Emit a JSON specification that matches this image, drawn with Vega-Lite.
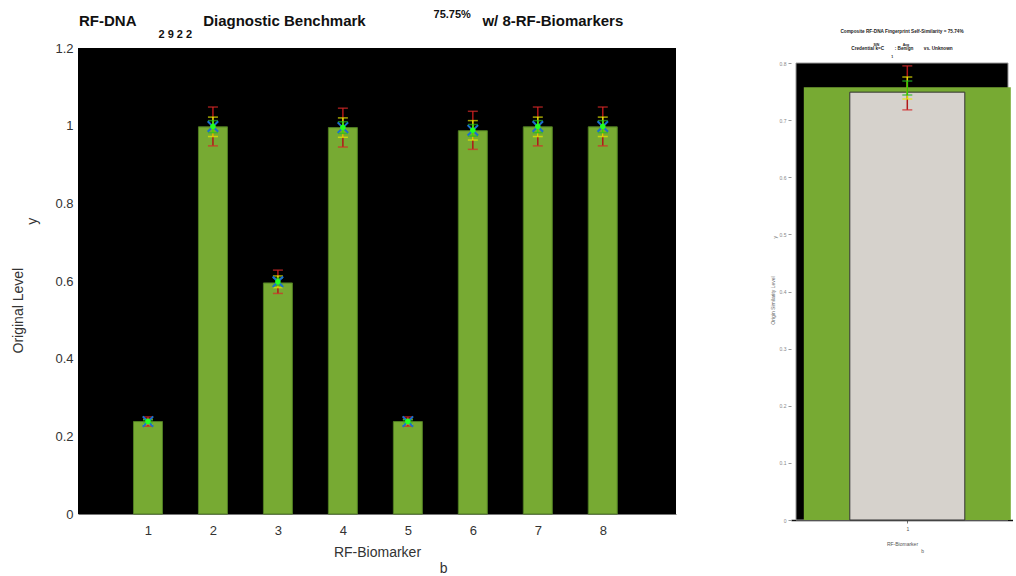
{
  "$schema": "https://vega.github.io/schema/vega-lite/v6.json",
  "background": "white",
  "padding": {"left": 11, "top": 9, "right": 0, "bottom": 0},
  "spacing": 94,
  "align": "none",
  "config": {
    "font": "Liberation Sans, Arial, sans-serif",
    "axis": {"grid": false, "labelFont": "Liberation Sans", "titleFont": "Liberation Sans", "titleFontWeight": "normal"}
  },
  "datasets": {
    "left": [
      {"b": 1, "v": 0.238, "m": 0.238, "rlo": 0.226, "rhi": 0.250, "ylo": 0.232, "yhi": 0.244, "glo": 0.234, "ghi": 0.242},
      {"b": 2, "v": 0.997, "m": 0.998, "rlo": 0.948, "rhi": 1.048, "ylo": 0.972, "yhi": 1.022, "glo": 0.982, "ghi": 1.013},
      {"b": 3, "v": 0.595, "m": 0.598, "rlo": 0.568, "rhi": 0.628, "ylo": 0.583, "yhi": 0.613, "glo": 0.589, "ghi": 0.607},
      {"b": 4, "v": 0.995, "m": 0.995, "rlo": 0.945, "rhi": 1.045, "ylo": 0.970, "yhi": 1.020, "glo": 0.980, "ghi": 1.010},
      {"b": 5, "v": 0.238, "m": 0.238, "rlo": 0.226, "rhi": 0.250, "ylo": 0.232, "yhi": 0.244, "glo": 0.234, "ghi": 0.242},
      {"b": 6, "v": 0.987, "m": 0.988, "rlo": 0.939, "rhi": 1.037, "ylo": 0.963, "yhi": 1.013, "glo": 0.973, "ghi": 1.003},
      {"b": 7, "v": 0.997, "m": 0.998, "rlo": 0.948, "rhi": 1.048, "ylo": 0.972, "yhi": 1.022, "glo": 0.982, "ghi": 1.013},
      {"b": 8, "v": 0.997, "m": 0.998, "rlo": 0.948, "rhi": 1.048, "ylo": 0.972, "yhi": 1.022, "glo": 0.982, "ghi": 1.013}
    ],
    "right": [
      {"b": 1, "composite": 0.7575, "v": 0.749, "m": 0.756, "rlo": 0.718, "rhi": 0.795, "ylo": 0.737, "yhi": 0.7755, "glo": 0.744, "ghi": 0.7685}
    ]
  },
  "hconcat": [
    {
      "width": 598,
      "height": 466,
      "view": {"fill": "black", "stroke": null},
      "data": {"name": "left"},
      "title": {
        "text": "RF-DNA\u00a0\u00a0\u00a0\u00a0\u00a0\u00a0\u00a0\u00a0\u00a0\u00a0\u00a0\u00a0\u00a0\u00a0\u00a0\u00a0Diagnostic Benchmark\u00a0\u00a0\u00a0\u00a0\u00a0\u00a0\u00a0\u00a0\u00a0\u00a0\u00a0\u00a0\u00a0\u00a0\u00a0\u00a0\u00a0\u00a0\u00a0\u00a0\u00a0\u00a0\u00a0\u00a0\u00a0\u00a0\u00a0\u00a0w/ 8-RF-Biomarkers",
        "subtitle": [
          "\u200b\u00a0\u00a0\u00a0\u00a0\u00a0\u00a0\u00a0\u00a0\u00a0\u00a0\u00a0\u00a0\u00a0\u00a0\u00a0\u00a0\u00a0\u00a0\u00a0\u00a0\u00a0\u00a0\u00a0\u00a0\u00a0\u00a0\u00a0\u00a0\u00a0\u00a0\u00a0\u00a0\u00a0\u00a0\u00a0\u00a0\u00a0\u00a0\u00a0\u00a0\u00a0\u00a0\u00a0\u00a0\u00a0\u00a0\u00a0\u00a0\u00a0\u00a0\u00a0\u00a0\u00a0\u00a0\u00a0\u00a0\u00a0\u00a0\u00a0\u00a0\u00a0\u00a0\u00a0\u00a0\u00a0\u00a0\u00a0\u00a0\u00a0\u00a0\u00a0\u00a0\u00a0\u00a0\u00a0\u00a0\u00a0\u00a0\u00a0\u00a0\u00a0\u00a0\u00a0\u00a0\u00a0\u00a0\u00a0\u00a0\u00a0\u00a0\u00a0\u00a0\u00a0\u00a0\u00a0\u00a0\u00a0\u00a0\u00a0\u00a0\u00a0\u00a0\u00a0\u00a0\u00a0\u00a0\u00a0\u00a0\u00a0\u00a0\u00a0\u00a0\u00a0\u00a0\u00a0\u00a075.75%",
          "\u200b\u00a0\u00a0\u00a0\u00a0\u00a0\u00a0\u00a0\u00a0\u00a0\u00a0\u00a0\u00a0\u00a0\u00a0\u00a0\u00a0\u00a0\u00a0\u00a0\u00a0\u00a0\u00a0\u00a0\u00a0\u00a0\u00a02 9 2 2"
        ],
        "anchor": "start",
        "frame": "group",
        "dx": 1,
        "font": "Liberation Sans",
        "fontSize": 15,
        "fontWeight": "bold",
        "color": "#111",
        "subtitleFont": "Liberation Sans",
        "subtitleFontSize": 11,
        "subtitleFontWeight": "bold",
        "subtitleColor": "#111",
        "subtitleLineHeight": 20,
        "subtitlePadding": -20,
        "offset": -3
      },
      "encoding": {
        "x": {"field": "b", "type": "quantitative", "scale": {"domain": [0, 9.05], "nice": false, "zero": false},
          "axis": {"values": [1, 2, 3, 4, 5, 6, 7, 8], "format": "d", "labelFontSize": 13, "labelColor": "#333", "labelPadding": 10, "ticks": false, "domainColor": "#777",
            "title": ["RF-Biomarker", "\u200b\u00a0\u00a0\u00a0\u00a0\u00a0\u00a0\u00a0\u00a0\u00a0\u00a0\u00a0\u00a0\u00a0\u00a0\u00a0\u00a0\u00a0\u00a0\u00a0\u00a0\u00a0\u00a0\u00a0\u00a0\u00a0\u00a0\u00a0\u00a0\u00a0\u00a0\u00a0\u00a0\u00a0\u00a0b"],
            "titleFontSize": 14, "titleColor": "#333", "titlePadding": 8, "titleLineHeight": 16}}
      },
      "layer": [
        {
          "mark": {"type": "bar", "size": 29, "color": "#77aa33", "stroke": "#4f7d22", "strokeWidth": 1},
          "encoding": {
            "y": {"field": "v", "type": "quantitative", "scale": {"domain": [0, 1.2], "nice": false},
              "axis": {"values": [0, 0.2, 0.4, 0.6, 0.8, 1, 1.2], "format": "~g", "labelFontSize": 13, "labelColor": "#333", "labelPadding": 5, "ticks": false, "domain": false,
                "title": ["Original Level\u00a0\u00a0\u00a0\u00a0\u00a0\u00a0\u00a0\u00a0\u00a0\u00a0\u00a0\u00a0\u00a0\u00a0\u00a0\u200b", "\u200b\u00a0\u00a0\u00a0\u00a0\u00a0\u00a0\u00a0\u00a0\u00a0\u00a0\u00a0\u00a0\u00a0\u00a0\u00a0\u00a0\u00a0\u00a0\u00a0\u00a0\u00a0\u00a0\u00a0\u00a0\u00a0\u00a0\u00a0\u00a0\u00a0\u00a0\u00a0y"],
                "titleFontSize": 14, "titleColor": "#333", "titlePadding": 15, "titleLineHeight": 14}}
          }
        },
        {"mark": {"type": "rule", "color": "#b01818", "strokeWidth": 1.5}, "encoding": {"y": {"field": "rlo", "type": "quantitative"}, "y2": {"field": "rhi"}}},
        {"mark": {"type": "rule", "color": "#d8d800", "strokeWidth": 1.5}, "encoding": {"y": {"field": "ylo", "type": "quantitative"}, "y2": {"field": "yhi"}}},
        {"mark": {"type": "rule", "color": "#33dd00", "strokeWidth": 1.5}, "encoding": {"y": {"field": "glo", "type": "quantitative"}, "y2": {"field": "ghi"}}},
        {"mark": {"type": "tick", "orient": "horizontal", "size": 10, "thickness": 1.5, "color": "#d42a2a"}, "encoding": {"y": {"field": "rlo", "type": "quantitative"}}},
        {"mark": {"type": "tick", "orient": "horizontal", "size": 10, "thickness": 1.5, "color": "#d42a2a"}, "encoding": {"y": {"field": "rhi", "type": "quantitative"}}},
        {"mark": {"type": "tick", "orient": "horizontal", "size": 10, "thickness": 1.5, "color": "#e8e800"}, "encoding": {"y": {"field": "ylo", "type": "quantitative"}}},
        {"mark": {"type": "tick", "orient": "horizontal", "size": 10, "thickness": 1.5, "color": "#e8e800"}, "encoding": {"y": {"field": "yhi", "type": "quantitative"}}},
        {"mark": {"type": "tick", "orient": "horizontal", "size": 10, "thickness": 1.5, "color": "#22bb22"}, "encoding": {"y": {"field": "glo", "type": "quantitative"}}},
        {"mark": {"type": "tick", "orient": "horizontal", "size": 10, "thickness": 1.5, "color": "#22bb22"}, "encoding": {"y": {"field": "ghi", "type": "quantitative"}}},
        {"mark": {"type": "point", "shape": "M-1,-1L1,1M-1,1L1,-1", "filled": false, "stroke": "#1a6fd0", "strokeWidth": 2, "size": 110, "opacity": 1}, "encoding": {"y": {"field": "m", "type": "quantitative"}}},
        {"mark": {"type": "point", "shape": "circle", "filled": true, "color": "#22ff22", "size": 30, "opacity": 1}, "encoding": {"y": {"field": "m", "type": "quantitative"}}}
      ]
    },
    {
      "width": 222,
      "height": 472,
      "view": {"fill": null, "stroke": null},
      "data": {"name": "right"},
      "title": {
        "text": ["Composite RF-DNA Fingerprint  Self-Similarity = 75.74%", "Credential k=C\u00a0\u00a0\u00a0\u00a0\u00a0\u00a0\u00a0\u00a0: Benign\u00a0\u00a0\u00a0\u00a0\u00a0\u00a0\u00a0\u00a0vs. Unknown"],
        "subtitle": ["SIN\u00a0\u00a0\u00a0\u00a0\u00a0\u00a0\u00a0\u00a0\u00a0\u00a0\u00a0\u00a0\u00a0\u00a0\u00a0\u00a0\u00a0\u00a0\u00a0\u00a0\u00a0\u00a0\u00a0\u00a0Avg\u00a0\u00a0\u00a0\u00a0\u00a0\u00a0\u00a0\u00a0\u00a0\u00a0\u00a0\u00a0\u00a0\u00a0\u00a0\u00a0\u00a0\u00a0\u00a0\u00a0\u00a0\u00a0\u200b", "1\u00a0\u00a0\u00a0\u00a0\u00a0\u00a0\u00a0\u00a0\u00a0\u00a0\u00a0\u00a0\u00a0\u00a0\u00a0\u00a0\u00a0\u00a0\u00a0\u00a0\u200b"],
        "anchor": "middle",
        "frame": "group",
        "font": "Liberation Sans",
        "fontSize": 4.7,
        "fontWeight": "bold",
        "lineHeight": 17,
        "color": "#222",
        "subtitleFont": "Liberation Sans",
        "subtitleFontSize": 3.5,
        "subtitleFontWeight": "bold",
        "subtitleColor": "#222",
        "subtitleLineHeight": 12,
        "subtitlePadding": -8,
        "offset": -10
      },
      "encoding": {
        "x": {"field": "b", "type": "quantitative", "scale": {"domain": [0.475, 1.475], "nice": false, "zero": false},
          "axis": {"values": [1], "format": "d", "labelFontSize": 5, "labelColor": "#555", "tickSize": 3, "tickColor": "#777", "domainColor": "#111", "domainWidth": 1.5, "labelPadding": 3,
            "title": ["RF-Biomarker", "\u200b\u00a0\u00a0\u00a0\u00a0\u00a0\u00a0\u00a0\u00a0\u00a0\u00a0\u00a0\u00a0\u00a0\u00a0\u00a0\u00a0\u00a0\u00a0\u00a0\u00a0\u00a0\u00a0\u00a0\u00a0\u00a0\u00a0\u00a0\u00a0\u00a0b"], "titleFontSize": 5, "titleColor": "#555", "titlePadding": 10, "titleLineHeight": 7}}
      },
      "layer": [
        {
          "mark": {"type": "rect", "fill": "black", "stroke": "#999", "strokeWidth": 1},
          "encoding": {
            "x": {"datum": 0.475, "type": "quantitative"},
            "x2": {"datum": 1.475},
            "y": {"datum": 0, "type": "quantitative", "scale": {"domain": [0, 0.8263], "nice": false},
              "axis": {"values": [0, 0.1, 0.2, 0.3, 0.4, 0.5, 0.6, 0.7, 0.8], "format": "~g", "labelFontSize": 5, "labelColor": "#888", "tickSize": 3, "tickColor": "#999", "domain": false, "labelPadding": 2,
                "title": ["Origin Similarity Level\u00a0\u00a0\u00a0\u00a0\u00a0\u00a0\u00a0\u00a0\u00a0\u00a0\u00a0\u00a0\u00a0\u00a0\u00a0\u00a0\u00a0\u00a0\u00a0\u00a0\u00a0\u00a0\u00a0\u200b", "\u200b\u00a0\u00a0\u00a0\u00a0\u00a0\u00a0\u00a0\u00a0\u00a0\u00a0\u00a0\u00a0\u00a0\u00a0\u00a0\u00a0\u00a0\u00a0\u00a0\u00a0\u00a0\u00a0\u00a0\u00a0\u00a0\u00a0\u00a0\u00a0\u00a0\u00a0\u00a0\u00a0\u00a0\u00a0\u00a0\u00a0\u00a0\u00a0\u00a0\u00a0\u00a0\u00a0\u00a0\u00a0\u00a0\u00a0\u00a0\u00a0\u00a0\u00a0\u00a0\u00a0\u00a0\u00a0\u00a0\u00a0\u00a0\u00a0\u00a0\u00a0\u00a0\u00a0\u00a0\u00a0\u00a0\u00a0\u00a0\u00a0y"],
                "titleFontSize": 5, "titleColor": "#666", "titlePadding": 2, "titleLineHeight": 2}},
            "y2": {"datum": 0.8}
          }
        },
        {
          "mark": {"type": "bar", "size": 207, "color": "#77aa33"},
          "encoding": {"y": {"field": "composite", "type": "quantitative"}}
        },
        {
          "mark": {"type": "bar", "size": 115, "color": "#d6d2cc", "stroke": "#333", "strokeWidth": 1},
          "encoding": {"y": {"field": "v", "type": "quantitative"}}
        },
        {"mark": {"type": "rule", "color": "#b01818", "strokeWidth": 1.5}, "encoding": {"y": {"field": "rlo", "type": "quantitative"}, "y2": {"field": "rhi"}}},
        {"mark": {"type": "rule", "color": "#d8d800", "strokeWidth": 1.5}, "encoding": {"y": {"field": "ylo", "type": "quantitative"}, "y2": {"field": "yhi"}}},
        {"mark": {"type": "rule", "color": "#33cc00", "strokeWidth": 1.5}, "encoding": {"y": {"field": "glo", "type": "quantitative"}, "y2": {"field": "ghi"}}},
        {"mark": {"type": "tick", "orient": "horizontal", "size": 10, "thickness": 1.5, "color": "#d42a2a"}, "encoding": {"y": {"field": "rlo", "type": "quantitative"}}},
        {"mark": {"type": "tick", "orient": "horizontal", "size": 10, "thickness": 1.5, "color": "#d42a2a"}, "encoding": {"y": {"field": "rhi", "type": "quantitative"}}},
        {"mark": {"type": "tick", "orient": "horizontal", "size": 10, "thickness": 1.5, "color": "#e8e800"}, "encoding": {"y": {"field": "ylo", "type": "quantitative"}}},
        {"mark": {"type": "tick", "orient": "horizontal", "size": 10, "thickness": 1.5, "color": "#e8e800"}, "encoding": {"y": {"field": "yhi", "type": "quantitative"}}},
        {"mark": {"type": "tick", "orient": "horizontal", "size": 10, "thickness": 1.5, "color": "#22bb22"}, "encoding": {"y": {"field": "glo", "type": "quantitative"}}},
        {"mark": {"type": "tick", "orient": "horizontal", "size": 10, "thickness": 1.5, "color": "#22bb22"}, "encoding": {"y": {"field": "ghi", "type": "quantitative"}}}
      ]
    }
  ]
}
